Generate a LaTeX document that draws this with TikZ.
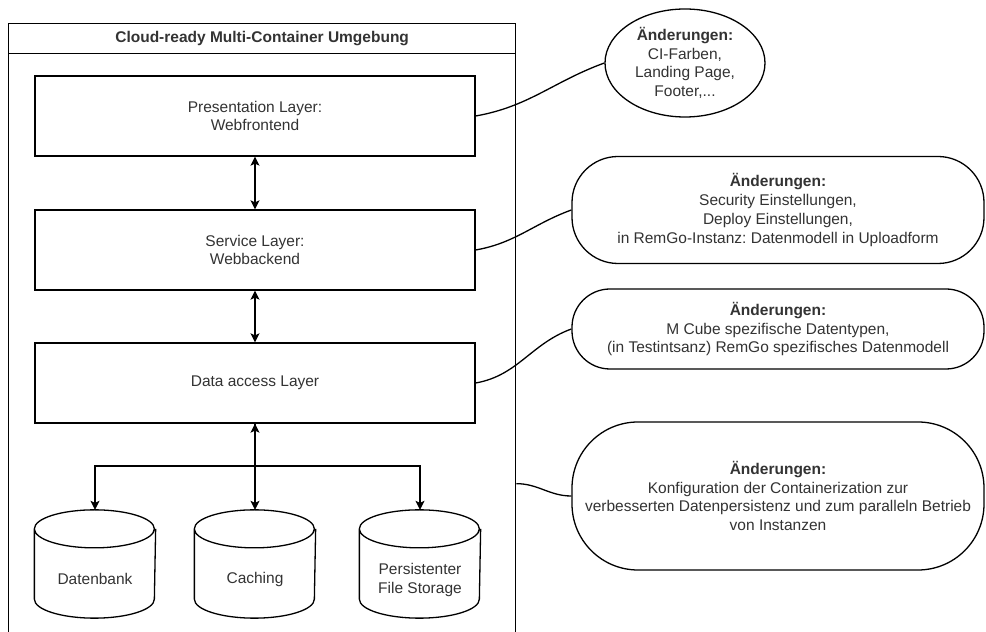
\documentclass[tikz,border=0pt]{standalone}
\usepackage{fontspec}
\setmainfont{Liberation Sans}
\usetikzlibrary{shapes.geometric,arrows.meta}
\definecolor{txt}{HTML}{333333}
\frenchspacing

\begin{document}
\begin{tikzpicture}[x=1pt,y=1pt,
  font=\fontsize{15.5}{18.7}\selectfont, text=txt, line width=1.3pt,
  layer/.style={draw, rectangle, minimum width=440pt, minimum height=80pt, align=center},
  store/.style={rectangle, minimum width=120pt, minimum height=107pt, inner sep=0pt},
  note/.style={draw, rectangle, minimum width=412pt, align=center},
  arr/.style={-{Stealth[length=9pt,width=9pt,inset=2pt]}},
  both/.style={{Stealth[length=9pt,width=9pt,inset=2pt]}-{Stealth[length=9pt,width=9pt,inset=2pt]}}]
\useasboundingbox (0,0) rectangle (986,632);
\clip (0,0) rectangle (986,632);
\fill[white] (0,0) rectangle (986,632);
% container
\node (cont) [draw, minimum width=507pt, minimum height=920pt, anchor=north west] at (8,609) {};
\node (title) [draw, minimum width=507pt, minimum height=30pt, anchor=north west, font=\fontsize{15.5}{18.7}\selectfont\bfseries] at (8,609) {Cloud-ready Multi-Container Umgebung};
% layers
\node (pres) [layer] at (255,516) {Presentation Layer:\\Webfrontend};
\node (serv) [layer] at (255,382) {Service Layer:\\Webbackend};
\node (data) [layer] at (255,249) {Data access Layer};
% storage
\coordinate (fork) at (255,166);
\node (dbank) [store, label={[yshift=-15pt]center:Datenbank}] at (95,68) {};
\node (cach) [store, label={[yshift=-15pt]center:Caching}] at (255,68) {};
\node (pfs) [store, label={[yshift=-16pt, align=center]center:Persistenter\\File Storage}] at (420,68) {};
\foreach \n in {dbank,cach,pfs} {
  \draw ([yshift=-19pt]\n.north west) arc[start angle=180, end angle=360, x radius=60pt, y radius=19pt]
    arc[start angle=0, end angle=180, x radius=60pt, y radius=19pt]
    -- ([yshift=19pt]\n.south west) arc[start angle=180, end angle=360, x radius=60pt, y radius=19pt]
    -- ([yshift=-19pt]\n.north east);
}
% changes
\node (chg1) [draw, ellipse, minimum width=160pt, minimum height=108pt, inner sep=0pt, align=center] at (685,569) {\textbf{Änderungen:}\\CI-Farben,\\Landing Page,\\Footer,...};
\node (chg2) [note, minimum height=107pt, rounded corners=46pt] at (778,422) {\textbf{Änderungen:}\\Security Einstellungen,\\Deploy Einstellungen,\\in RemGo-Instanz: Datenmodell in Uploadform};
\node (chg3) [note, minimum height=80pt, rounded corners=38pt] at (778,303) {\textbf{Änderungen:}\\M Cube spezifische Datentypen,\\(in Testintsanz) RemGo spezifisches Datenmodell};
\node (chg4) [note, minimum height=148pt, rounded corners=66pt] at (778,136) {\textbf{Änderungen:}\\Konfiguration der Containerization zur\\verbesserten Datenpersistenz und zum paralleln Betrieb\\von Instanzen};
% arrows
\draw[both] (pres) -- (serv);
\draw[both] (serv) -- (data);
\draw[both] (data) -- (cach);
\draw[arr] (data.south) -- (fork) -| (dbank.north);
\draw[arr] (fork) -| (pfs.north);
% links
\draw (pres.east) to[out=10,in=200] (chg1.west);
\draw (serv.east) to[out=10,in=200] (chg2.west);
\draw (data.east) to[out=10,in=200] (chg3.west);
\draw (cont.east) to[out=0,in=180] (chg4.west);
\end{tikzpicture}
\end{document}
